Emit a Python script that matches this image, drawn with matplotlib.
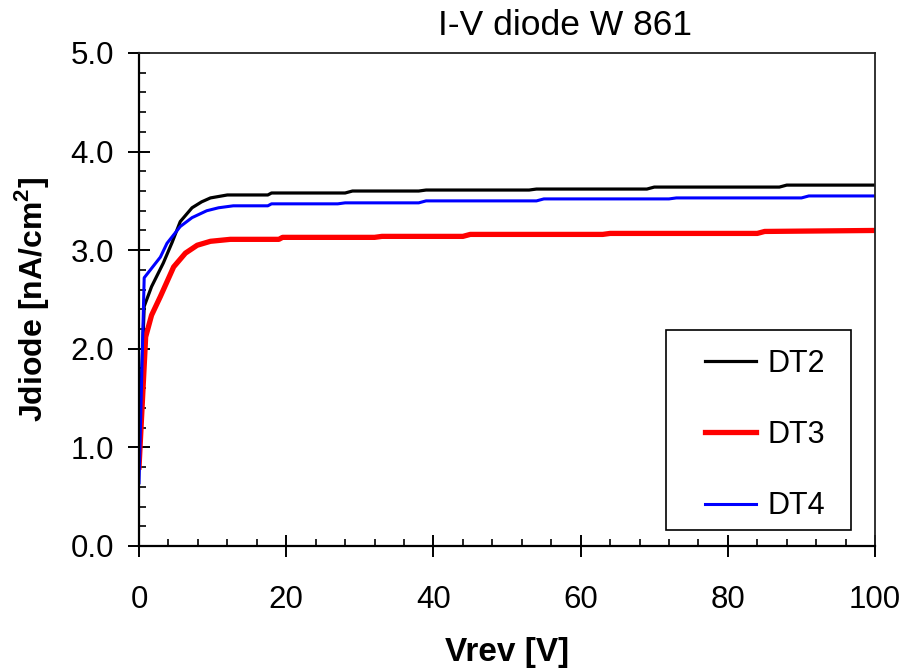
import numpy as np
import matplotlib
matplotlib.use('Agg')
import matplotlib.pyplot as plt
from matplotlib.patches import Rectangle
from matplotlib.ticker import MultipleLocator, FormatStrFormatter

# I-V diode W 861 : reverse voltage [V] vs diode current density [nA/cm2]
v_dt2 = [0, 0.7, 1.7, 3.3, 4.5, 5.6, 7.2, 8.5, 9.7, 12, 17.5, 18, 28, 29,
         38, 39, 53, 54, 69, 70, 87, 88, 100]
j_dt2 = [1.0, 2.43, 2.63, 2.87, 3.08, 3.29, 3.43, 3.49, 3.53, 3.56, 3.56,
         3.58, 3.58, 3.60, 3.60, 3.61, 3.61, 3.62, 3.62, 3.64, 3.64, 3.66, 3.66]

v_dt3 = [0, 0.9, 1.7, 2.9, 4.7, 6.3, 7.9, 9.7, 12.4, 19, 19.5, 32, 33,
         44, 45, 63, 64, 84, 85, 100]
j_dt3 = [0.80, 2.12, 2.34, 2.53, 2.83, 2.97, 3.05, 3.09, 3.11, 3.11, 3.13,
         3.13, 3.14, 3.14, 3.16, 3.16, 3.17, 3.17, 3.19, 3.20]

v_dt4 = [0, 0.7, 2.9, 3.8, 5.6, 7.2, 9.2, 10.8, 12.8, 17.5, 18, 27, 28,
         38, 39, 54, 55, 72, 73, 90, 91, 100]
j_dt4 = [0.64, 2.72, 2.93, 3.07, 3.24, 3.33, 3.40, 3.43, 3.45, 3.45, 3.47,
         3.47, 3.48, 3.48, 3.50, 3.50, 3.52, 3.52, 3.53, 3.53, 3.55, 3.55]

plt.rcParams.update({
    'font.family': 'Liberation Sans',
    'mathtext.fontset': 'custom',
    'mathtext.rm': 'Liberation Sans',
    'mathtext.bf': 'Liberation Sans:bold',
})

fig = plt.figure(figsize=(9.04, 6.69), dpi=100)
ax = fig.add_axes([0.1538, 0.1839, 0.8142, 0.7369])

ax.plot(v_dt2, j_dt2, color='black', lw=2.3, label='DT2')
ax.plot(v_dt3, j_dt3, color='#ff0000', lw=3.8, label='DT3')
ax.plot(v_dt4, j_dt4, color='#0000ff', lw=2.2, label='DT4')

ax.set_xlim(0, 100)
ax.set_ylim(0, 5)
ax.xaxis.set_major_locator(MultipleLocator(20))
ax.xaxis.set_minor_locator(MultipleLocator(4))
ax.yaxis.set_major_locator(MultipleLocator(1))
ax.yaxis.set_minor_locator(MultipleLocator(0.2))
ax.yaxis.set_major_formatter(FormatStrFormatter('%.1f'))

for s in ['left', 'bottom']:
    ax.spines[s].set_linewidth(1.6)
for s in ['top', 'right']:
    ax.spines[s].set_linewidth(1.3)
    ax.spines[s].set_color('#222222')

ax.tick_params(which='major', direction='inout', length=16, width=1.4,
               labelsize=22.5)
ax.tick_params(axis='y', which='major', pad=10)
ax.tick_params(axis='x', which='major', pad=20)
ax.tick_params(which='minor', direction='in', length=5, width=1.2)

ax.set_xlabel('Vrev [V]', fontsize=24, fontweight='bold', labelpad=16)
ax.set_ylabel(r'Jdiode [nA/cm$^\mathbf{2}$]', fontsize=23,
              fontweight='bold', labelpad=14)
fig.text(0.625, 0.962, 'I-V diode W 861', fontsize=25.5, ha='center',
         va='center')

# legend box
box = Rectangle((0.716, 0.032), 0.251, 0.406, transform=ax.transAxes,
                fill=False, lw=1.2, ec='black', zorder=4)
ax.add_patch(box)
ax.legend(loc='center', bbox_to_anchor=(0.85, 0.225), frameon=False,
          fontsize=22, labelspacing=1.35, handlelength=1.7,
          handletextpad=0.35)

fig.savefig('out.png', dpi=100)
